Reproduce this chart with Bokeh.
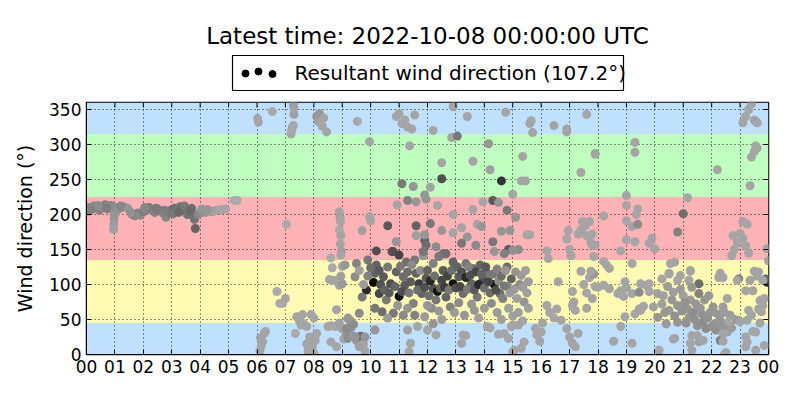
from bokeh.plotting import figure
from bokeh.layouts import column
from bokeh.models import Range1d, FixedTicker
from bokeh.embed import file_html
from bokeh.resources import INLINE
from bokeh.core.properties import value

TITLE = "Latest time: 2022-10-08 00:00:00 UTC"
LEGEND_LABEL = "Resultant wind direction (107.2°)"
Y_LABEL = "Wind direction (°)"
HOUR_TICKS = list(range(25))
HOUR_LABELS = ["00", "01", "02", "03", "04", "05", "06", "07", "08", "09", "10", "11",
               "12", "13", "14", "15", "16", "17", "18", "19", "20", "21", "22", "23", "00"]
DIR_TICKS = [0, 50, 100, 150, 200, 250, 300, 350]

# sector bands (degrees) and colours
band_lo = [0, 45, 135, 225, 315]
band_hi = [45, 135, 225, 315, 360]
band_colors = ["#bfe0ff", "#fffbb3", "#ffb3b7", "#bfffbf", "#bfe0ff"]

# (hour, direction deg, grey level)
night = [(0.05,210,135),(0.15,207,130),(0.25,212,135),(0.35,209,125),(0.45,206,130),(0.55,211,135),
         (0.65,214,130),(0.75,208,140),(0.85,213,135),(0.95,205,140),(0.98,200,150),(0.97,193,150),
         (0.96,186,155),(0.95,179,160),(1.05,210,140),(1.15,208,145),(1.3,211,140),(1.45,209,150),
         (1.6,200,140),(1.7,198,135),(1.8,202,130),(1.9,199,140),(2.0,204,125),(2.1,206,130),
         (2.2,210,120),(2.3,207,125),(2.4,203,130),(2.5,208,135),(2.6,205,125),(2.7,202,130),
         (2.8,196,135),(2.9,203,120),(3.0,207,115),(3.1,209,110),(3.2,205,120),(3.3,211,115),
         (3.4,208,105),(3.5,206,110),(3.6,203,115),(3.7,209,110),(3.75,198,120),(3.8,193,115),
         (3.83,180,100),(3.9,200,130),(4.0,202,140),(4.1,205,145),(4.2,203,150),(4.3,206,155),
         (4.4,204,155),(4.5,205,160),(4.6,206,160),(4.7,207,165),(4.8,207,165),(4.9,208,165),
         (5.2,220,170),(5.3,220,170),(0.1,205,130),(0.4,213,140),(0.7,209,125),(1.2,212,135),
         (1.55,203,145),(2.05,210,135),(2.45,209,120),(2.75,206,125),(3.05,201,120),(3.25,203,105),
         (3.45,212,120),(3.55,200,115),(3.65,205,105),(4.05,208,150),(4.25,207,150)]

morning = [(6.02,337,165),(6.05,332,165),(6.54,347,168),(7.2,315,165),(7.22,320,168),(7.25,325,165),
           (7.28,327,168),(7.3,343,160),(7.3,352,165),(7.28,357,160),(8.1,340,150),(8.15,333,160),
           (8.2,344,150),(8.25,330,165),(8.3,326,165),(8.35,338,165),(8.45,318,165),(9.53,333,168),
           (7.04,186,170),(8.9,204,165),(8.92,196,160),(8.94,190,165),(8.9,178,170),(8.95,170,165),
           (8.93,158,165),(8.97,148,160),(8.95,142,165),(8.6,138,170),(8.65,124,170),(8.55,107,165),
           (8.7,106,165),(8.9,99,165),(8.8,64,165),(9.0,126,165),(8.95,112,160),(6.7,90,170),
           (6.8,73,170),(6.9,73,170),(7.0,80,165),(6.1,5,165),(6.15,12,165),(6.2,18,165),
           (6.25,30,165),(6.3,33,165),(6.12,24,165),(7.35,30,170),(7.4,54,165),(7.5,47,165),
           (7.55,42,165),(7.65,44,165),(7.75,40,165),(7.9,57,165),(8.0,52,165),(7.6,57,165),
           (7.75,15,165),(7.8,5,165),(7.85,25,165),(7.95,12,165),(8.0,2,165),(8.05,20,165),
           (8.1,30,165),(8.5,40,165),(8.6,41,165),(8.75,40,165),(8.6,18,165),(8.8,11,165),
           (8.9,45,160),(9.0,37,160),(9.05,22,165),(9.15,30,150),(9.2,23,140),(9.3,38,145),
           (9.3,48,150),(9.4,43,140),(9.4,26,155),(9.5,20,150),(9.6,12,150),(9.65,26,110),
           (9.75,15,165),(9.8,5,165),(9.2,52,150)]

midday_upper = [(9.96,304,165),(9.96,197,165),(10.0,191,165),(9.7,177,160),(10.6,184,90),(11.6,184,100),
                (10.2,148,80),(10.8,147,100),(10.9,161,150),(11.6,170,160),(11.9,163,100),(11.95,156,110),
                (11.1,244,120),(11.5,240,150),(11.3,220,130),(11.6,218,150),(11.95,222,150),(10.93,214,165),
                (11.37,298,165),(10.9,340,165),(11.0,344,165),(11.1,330,165),(11.3,325,165),(11.45,322,165),
                (11.55,342,165),(11.2,335,165),(12.9,354,165),(13.4,340,165),(12.2,320,165),(12.85,310,165),
                (13.05,312,120),(14.75,346,165),(15.6,330,165),(15.65,334,165),(15.7,317,165),(16.45,327,165),
                (16.9,318,165),(16.9,322,165),(17.6,343,165),(14.15,301,150),(12.5,274,165),(13.6,276,165),
                (14.2,264,160),(12.5,251,80),(14.6,248,50),(15.3,248,165),(15.45,248,165),(15.35,283,165),
                (17.4,260,165),(17.9,287,165),(12.1,239,165),(11.9,228,150),(15.0,229,165),(14.3,220,90),
                (14.5,217,150),(13.95,218,165),(12.35,213,165),(13.6,207,165),(14.8,206,120),(12.9,200,165),
                (15.1,196,150),(12.1,187,120),(13.75,186,165),(13.9,183,150),(13.2,181,165),(12.5,177,150),
                (12.9,174,165),(14.6,176,150),(14.9,177,150),(15.5,171,165),(15.6,171,165),(11.9,171,150),
                (13.4,168,150),(14.3,161,120),(13.2,159,120),(13.7,156,140),(12.3,154,140),(14.85,150,90),
                (15.2,150,140),(14.35,147,150),(12.55,144,110),(11.85,141,150),(16.2,148,165),(16.25,137,165),
                (16.9,165,165),(16.95,177,165),(17.0,150,165),(17.05,141,165),(17.3,172,165),(17.4,178,165),
                (17.55,184,165),(17.6,170,165),(17.75,160,165),(17.8,156,165),(17.45,190,165),(17.85,140,165)]

midday_core = [(9.5,130,130),(9.9,135,120),(10.2,128,100),(10.75,147,80),(11.0,142,70),(11.25,132,110),
               (11.55,135,120),(11.85,147,120),(12.2,130,130),(12.65,144,110),(12.4,140,120),(12.9,132,100),
               (13.35,130,120),(13.6,123,110),(13.85,128,100),(14.1,116,120),(14.7,144,130),(14.8,125,110),
               (15.0,149,145),(15.3,113,155),(10.1,103,10),(9.85,92,40),(10.15,116,100),(10.45,111,90),
               (10.7,101,80),(10.3,87,70),(10.55,78,120),(11.0,83,10),(10.85,97,100),(11.15,111,110),
               (11.2,99,90),(11.5,73,130),(11.7,101,60),(11.95,109,90),(11.8,87,100),(12.2,94,80),
               (12.35,90,20),(12.5,106,70),(12.65,82,100),(12.9,101,20),(13.1,111,90),(13.25,87,110),
               (13.55,101,100),(13.75,82,120),(13.95,106,80),(14.35,100,20),(14.55,87,110),(14.8,97,130),
               (15.25,100,140),(15.4,75,150),(14.25,73,140),(13.65,63,150),(13.3,56,150),(12.8,68,130),
               (12.15,66,140),(11.55,56,130),(11.15,56,140),(10.8,59,120),(10.4,61,110),(10.15,66,120),
               (9.6,59,140),(9.2,51,150),(9.7,82,120),(9.45,111,140),(9.1,128,150),(9.0,101,155),
               (9.6,120,160),(9.75,100,155),(9.9,112,130),(10.0,124,110),(10.3,120,90),(10.35,100,80),
               (10.5,92,100),(10.6,125,120),(10.65,88,90),(10.9,118,100),(11.05,126,120),(11.1,90,80),
               (11.3,118,110),(11.35,88,120),(11.4,104,90),(11.45,128,140),(11.6,116,100),(11.65,92,110),
               (11.75,120,140),(11.9,96,80),(12.0,120,100),(12.05,84,110),(12.1,105,40),(12.25,112,110),
               (12.3,78,120),(12.45,95,100),(12.55,120,90),(12.6,96,60),(12.7,112,70),(12.75,92,120),
               (12.85,120,110),(13.0,95,80),(13.05,125,100),(13.15,97,70),(13.2,118,80),(13.35,110,40),
               (13.4,93,120),(13.45,125,130),(13.5,113,80),(13.65,92,90),(13.7,118,70),(13.8,100,40),
               (13.9,115,100),(14.0,95,110),(14.05,125,90),(14.15,104,70),(14.2,88,110),(14.3,115,120),
               (14.4,92,80),(14.45,122,130),(14.5,105,140),(14.6,112,110),(14.65,80,130),(14.7,98,120),
               (14.75,120,150),(14.9,88,155),(14.95,108,100),(15.05,93,155),(15.1,118,150),(15.15,80,160),
               (15.35,96,155),(15.45,120,160),(15.5,88,160),(15.55,104,155),(12.0,70,150),(12.4,62,150),
               (12.95,60,155),(13.1,74,140),(13.55,72,150),(14.0,66,155),(14.45,60,155),(14.85,66,160),
               (15.2,60,160),(15.55,66,160),(11.3,66,150),(10.95,70,150),(10.6,52,155),(11.9,54,155),
               (12.5,50,155),(13.8,52,160),(14.6,50,160),(15.0,55,160),(15.35,48,165)]

midday_low = [(9.15,37,140),(9.45,25,150),(9.6,11,160),(9.8,25,150),(10.15,35,150),(11.3,35,160),
              (11.65,40,165),(11.4,16,165),(12.0,35,165),(12.3,28,165),(11.35,4,165),(13.25,28,165),
              (13.2,16,165),(14.1,40,165),(14.7,30,165),(15.0,42,165),(15.2,42,165),(15.3,9,165),
              (15.4,18,165),(15.0,4,165),(12.2,44,150),(13.35,27,165),(14.2,38,165),(14.5,29,165),
              (14.85,23,165),(14.95,40,165),(15.05,6,165)]

afternoon = [(16.6,104,165),(16.2,70,165),(16.3,60,165),(16.45,52,165),(16.7,49,165),(16.55,65,165),
             (17.1,90,165),(17.15,75,165),(17.2,63,165),(17.1,70,165),(17.4,119,165),(17.5,100,165),
             (17.6,88,165),(17.7,110,165),(17.8,80,165),(17.9,97,165),(17.85,115,150),(15.8,37,165),
             (15.85,28,165),(15.95,19,165),(16.0,32,165),(16.9,37,165),(17.0,25,165),(17.1,16,165),
             (17.2,11,165),(17.3,30,165),(16.05,45,165),(17.9,286,165),(19.3,289,165),(19.3,303,165),
             (18.2,198,165),(19.0,213,165),(19.0,227,165),(19.35,200,165),(19.4,208,165),(19.0,191,165),
             (19.2,183,165),(19.4,186,140),(18.8,148,165),(19.0,164,165),(19.3,161,165),(19.8,159,165),
             (19.9,166,165),(20.0,151,165),(17.7,190,165),(17.8,172,165),(17.9,156,165),(18.2,133,165),
             (18.3,128,165),(18.4,123,165),(19.2,130,165),(18.95,104,165),(19.0,95,165),(19.2,87,165),
             (19.5,101,165),(19.7,99,165),(19.8,90,165),(18.0,96,165),(18.2,99,165),(18.4,94,165),
             (18.7,87,165),(18.8,91,165),(18.9,83,165),(17.75,119,165),(17.6,66,165),(18.95,54,165),
             (18.8,40,165),(19.5,63,165),(19.6,69,165),(19.3,58,165),(18.55,19,165),(19.2,16,165),
             (19.45,65,165),(19.45,89,140),(19.8,101,165)]

evening = [(20.55,130,165),(20.7,132,165),(20.5,116,165),(21.25,119,165),(21.2,106,165),(20.25,108,165),
           (20.5,115,165),(20.8,106,165),(20.9,113,165),(21.25,120,165),(20.1,87,160),(20.3,84,160),
           (20.65,89,160),(21.0,84,160),(21.55,87,130),(21.9,84,150),(21.25,78,155),(19.95,68,160),
           (20.25,72,160),(20.5,63,155),(20.8,70,150),(21.15,65,150),(21.45,72,150),(21.65,58,145),
           (21.95,60,150),(22.2,58,150),(22.45,60,155),(22.65,56,155),(20.1,53,150),(20.4,44,155),
           (20.8,46,150),(21.2,53,150),(21.5,41,145),(21.8,37,140),(22.1,44,150),(22.3,49,150),
           (22.95,49,160),(21.3,27,165),(21.55,18,160),(22.3,20,130),(22.55,32,160),(20.65,22,165),
           (20.15,6,165),(21.3,6,165),(22.5,3,165),(23.2,25,165),(23.25,18,165),(23.55,32,165),
           (23.55,6,165),(21.55,101,110),(22.25,110,165),(22.55,80,165),(22.95,108,120),(23.2,91,165),
           (23.3,63,165),(23.65,65,165),(23.7,77,165),(23.65,118,165),(23.95,103,60),(23.9,108,100),
           (20.35,60,150),(20.6,78,150),(20.7,55,145),(20.95,62,145),(21.05,74,145),(21.1,45,145),
           (21.35,60,140),(21.4,50,145),(21.6,66,150),(21.7,47,140),(21.75,78,150),(21.85,52,145),
           (22.0,40,145),(22.05,68,150),(22.15,35,145),(22.35,40,150),(22.4,68,155),(22.55,44,150),
           (22.7,38,155),(22.8,50,155),(20.9,93,155),(21.3,96,150),(20.45,97,155),(22.3,116,165),
           (22.4,110,165),(22.9,106,165),(23.35,106,165),(23.5,119,165),(23.6,112,165),(23.8,106,165),
           (23.45,91,165),(23.75,61,165),(23.8,70,165),(23.85,80,165),(22.6,47,165),(23.0,47,165),
           (23.25,49,165),(23.4,56,165),(23.7,45,165),(23.45,33,165),(23.85,13,165),(23.2,11,165),
           (22.4,19,165),(22.4,30,165),(22.45,0,165),(20.7,23,165),(21.25,16,165),(21.5,27,165),
           (21.7,20,165),(22.7,141,165),(22.8,150,165),(22.9,160,165),(23.0,173,165),(23.1,166,165),
           (23.2,155,165),(23.3,145,165),(22.75,170,165),(23.95,151,165),(24.0,134,165),(21.15,224,165),
           (21.0,201,110),(20.8,175,130),(22.2,264,165),(23.1,331,165),(23.2,340,165),(23.3,350,165),
           (23.4,358,165),(23.5,335,165),(23.55,333,165),(23.6,331,165),(23.4,282,165),(23.5,290,165),
           (23.55,298,165),(23.6,295,165),(23.35,241,165),(23.1,190,165),(23.25,186,165)]

segments = [night, morning, midday_upper, afternoon, evening, midday_low, midday_core]
hours = [pt[0] for seg in segments for pt in seg]
directions = [pt[1] for seg in segments for pt in seg]
greys = [pt[2] for seg in segments for pt in seg]
colors = ["#%02x%02x%02x" % (g, g, g) for g in greys]

FONT = "DejaVu Sans"
W = 800
FRAME_L, FRAME_R = 86, 768      # page pixels of the plot frame
FRAME_T, FRAME_B = 102, 354
HEAD_H = 94

# ---- header (title + legend), page-pixel coordinates ----
head = figure(width=W, height=HEAD_H, x_range=Range1d(FRAME_L, FRAME_R), y_range=Range1d(HEAD_H, 0),
              toolbar_location=None, output_backend="svg",
              x_axis_location=None, y_axis_location=None,
              min_border_left=FRAME_L, min_border_right=W - FRAME_R, min_border_top=0, min_border_bottom=0)
head.grid.visible = False
head.outline_line_color = None
head.background_fill_color = "white"
head.text(x=[427], y=[35], text=[TITLE], text_align="center", text_baseline="middle",
          text_font=value(FONT), text_font_size="23px", text_color="black")
head.quad(left=[232], right=[623], top=[55], bottom=[90], fill_color="white",
          line_color="black", line_width=1.2)
head.scatter(x=[245, 258, 272], y=[73, 71, 73.5], size=7, fill_color="black", line_color="black")
head.text(x=[294], y=[72], text=[LEGEND_LABEL], text_align="left", text_baseline="middle",
          text_font=value(FONT), text_font_size="20px", text_color="black")

# ---- main plot ----
MAIN_H = 400 - HEAD_H
p = figure(width=W, height=MAIN_H, x_range=Range1d(0, 24), y_range=Range1d(0, 360),
           toolbar_location=None, output_backend="svg",
           min_border_left=FRAME_L, min_border_right=W - FRAME_R,
           min_border_top=FRAME_T - HEAD_H, min_border_bottom=400 - FRAME_B)
p.background_fill_color = "white"
p.outline_line_color = "black"
p.outline_line_width = 1.5

p.quad(left=0, right=24, bottom=band_lo, top=band_hi, fill_color=band_colors,
       line_color=None, level="image")

p.scatter(x=hours, y=directions, size=9, fill_color=colors, line_color=None)

for ax in p.xaxis:
    ax.ticker = FixedTicker(ticks=HOUR_TICKS)
    ax.major_label_overrides = {t: lab for t, lab in zip(HOUR_TICKS, HOUR_LABELS)}
for ax in p.yaxis:
    ax.ticker = FixedTicker(ticks=DIR_TICKS)
    ax.axis_label = Y_LABEL
    ax.axis_label_text_font_style = "normal"
    ax.axis_label_text_font = FONT
    ax.axis_label_text_font_size = "19px"
    ax.axis_label_text_color = "black"
    ax.axis_label_standoff = 10
for ax in p.axis:
    ax.major_label_text_font = FONT
    ax.major_label_text_font_size = "17px"
    ax.major_label_text_color = "black"
    ax.major_tick_in = 5
    ax.major_tick_out = 0
    ax.minor_tick_line_color = None
    ax.axis_line_color = "black"
    ax.major_tick_line_color = "black"
    ax.major_label_standoff = 5

p.xgrid.ticker = FixedTicker(ticks=HOUR_TICKS)
p.ygrid.ticker = FixedTicker(ticks=DIR_TICKS)
for g in (p.xgrid, p.ygrid):
    g.grid_line_color = "black"
    g.grid_line_dash = "1 3"
    g.grid_line_width = 1
    g.grid_line_alpha = 0.85

# inward ticks on the top and right spines (matplotlib classic look)
tick_dy = 5 * 360 / (FRAME_B - FRAME_T)
tick_dx = 5 * 24 / (FRAME_R - FRAME_L)
p.segment(x0=HOUR_TICKS, x1=HOUR_TICKS, y0=360, y1=360 - tick_dy, line_color="black", line_width=1)
p.segment(x0=24, x1=24 - tick_dx, y0=DIR_TICKS, y1=DIR_TICKS, line_color="black", line_width=1)

layout = column(head, p, spacing=0)
open("out.html", "w").write(file_html(layout, INLINE))
